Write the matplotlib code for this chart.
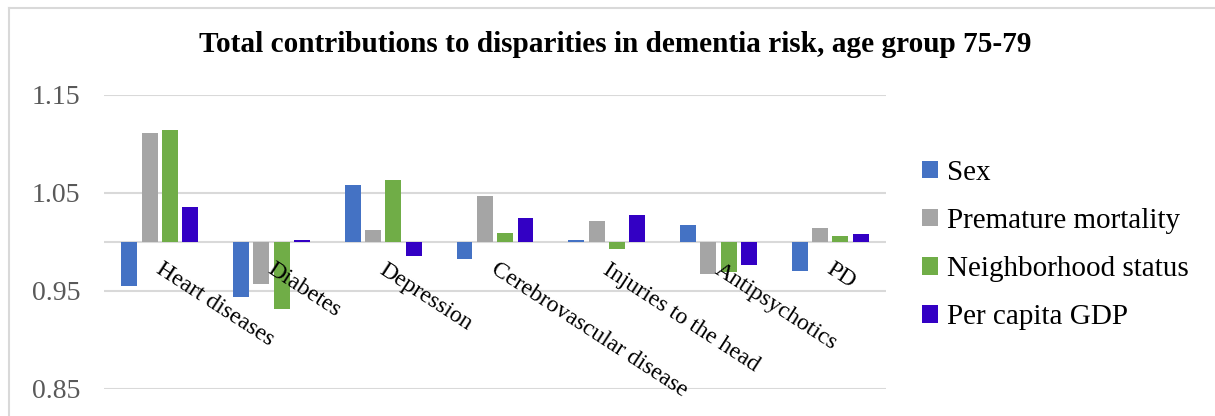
import matplotlib
matplotlib.use("Agg")
import matplotlib.pyplot as plt
import matplotlib.transforms as mtransforms
from matplotlib.patches import Patch
from matplotlib.lines import Line2D
import numpy as np

categories = ["Heart diseases", "Diabetes", "Depression", "Cerebrovascular disease",
              "Injuries to the head", "Antipsychotics", "PD"]
series_names = ["Sex", "Premature mortality", "Neighborhood status", "Per capita GDP"]
sex = [0.955, 0.944, 1.058, 0.983, 1.002, 1.017, 0.970]
premature = [1.111, 0.957, 1.012, 1.047, 1.021, 0.967, 1.014]
neighborhood = [1.114, 0.932, 1.063, 1.009, 0.993, 0.969, 1.006]
gdp = [1.036, 1.002, 0.986, 1.024, 1.028, 0.977, 1.008]
yticks = [0.85, 0.95, 1.05, 1.15]
title = "Total contributions to disparities in dementia risk, age group 75-79"

colors = ["#4472C4", "#A5A5A5", "#70AD47", "#3300C4"]
serif = ["Liberation Serif", "DejaVu Serif"]
W, H = 1215, 416
fig = plt.figure(figsize=(W / 100, H / 100), dpi=100)
ax = fig.add_axes([104 / W, 1 - 389 / H, (886 - 104) / W, (389 - 95) / H])

base = 1.0
x = np.arange(len(categories))
spacing = 0.182
width = 0.143
for i, (vals, c) in enumerate(zip([sex, premature, neighborhood, gdp], colors)):
    v = np.array(vals)
    ax.bar(x + (i - 1.5) * spacing, v - base, bottom=base, width=width,
           color=c, zorder=3, linewidth=0)

ax.set_xlim(-0.5, len(categories) - 0.5)
ax.set_ylim(0.85, 1.15)
ax.set_yticks(yticks)
ax.set_yticklabels([f"{t:.2f}" for t in yticks], fontfamily=serif, fontsize=20, color="#595959")
ax.tick_params(axis="y", length=0, pad=17)
ax.set_xticks([])
ax.grid(axis="y", color="#D9D9D9", linewidth=1.5, zorder=0)
ax.axhline(base, color="#D9D9D9", linewidth=1.5, zorder=1)
for s in ax.spines.values():
    s.set_visible(False)
ax.set_facecolor("none")

for i, cat in enumerate(categories):
    tr = mtransforms.offset_copy(ax.transData, fig=fig, x=4, y=-17, units="dots")
    ax.text(i, base, cat, transform=tr, rotation=-33, rotation_mode="anchor",
            ha="left", va="top", fontfamily=serif, fontsize=17, color="black", zorder=4)

fig.text(615 / W, 1 - 45 / H, title, ha="center", va="center",
         fontfamily=serif, fontsize=21.1, fontweight="bold", color="black")

handles = [Patch(facecolor=c, edgecolor="none") for c in colors]
leg = fig.legend(handles, series_names, loc="center left",
                 bbox_to_anchor=(922 / W, 1 - 245 / H), frameon=False,
                 prop={"family": serif, "size": 21}, handlelength=0.55, handleheight=0.55,
                 handletextpad=0.3, labelspacing=0.76, borderaxespad=0, borderpad=0)

# chart border
fig.add_artist(Line2D([9 / W, 1], [1 - 8 / H, 1 - 8 / H], transform=fig.transFigure,
                      color="#D9D9D9", linewidth=1.5))
fig.add_artist(Line2D([9 / W, 9 / W], [0, 1 - 8 / H], transform=fig.transFigure,
                      color="#D9D9D9", linewidth=1.5))

fig.savefig("out.png", dpi=100)
